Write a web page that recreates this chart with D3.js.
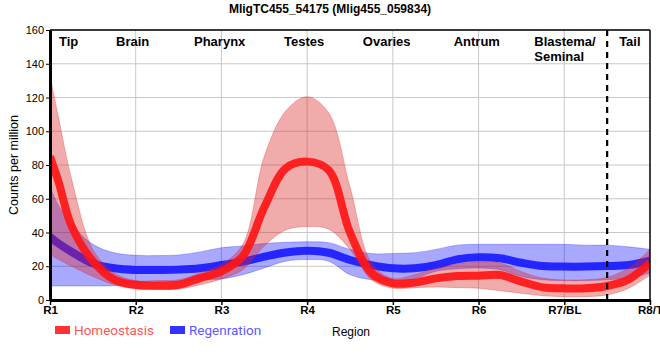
<!DOCTYPE html>
<html><head><meta charset="utf-8">
<script src="https://cdn.jsdelivr.net/npm/d3@7/dist/d3.min.js"></script>
<style>
html,body{margin:0;padding:0;background:#fff;}
svg{display:block;font-family:"Liberation Sans",Arial,sans-serif;}
</style></head>
<body><svg id="chart" width="660" height="360"></svg>
<script>
const title = "MligTC455_54175 (Mlig455_059834)";
const regions = ["R1","R2","R3","R4","R5","R6","R7/BL","R8/T"];
const regionIdx = [0,1,2,3,4,5,6,7];
const sections = ["Tip","Brain","Pharynx","Testes","Ovaries","Antrum","Blastema/\nSeminal","Tail"];
const sectionAt = [0.105,0.77,1.68,2.73,3.65,4.71,5.65,6.64];
const dividerAt = 6.5;
const yTicks = [0,20,40,60,80,100,120,140,160];
const pos = [0,0.1,0.25,0.5,0.75,1,1.25,1.5,1.75,2,2.25,2.5,2.75,3,3.25,3.5,3.75,4,4.25,4.5,4.75,5,5.25,5.5,5.75,6,6.25,6.5,6.75,7];
const homeoMean = [85,70,44,23,12,9,8.5,9,13,17,26,55,78,82,77,40,16,9.9,10.3,12.8,14.2,14.4,14.8,10.9,7.5,6.9,6.9,8.3,12.2,21.9];
const homeoLow  = [27,24,20,14,9,6.5,6.3,6.5,9,12.5,18,32,41.5,43.5,42,30,12,7,7.3,7.7,7.3,7,5.5,4,2.5,2,2,3,7,14.8];
const homeoHigh = [133,108,72,30,16,11.5,11.5,12,16,21,33,85,112,120.5,111,67,22,12.8,15,18.8,21.5,22.5,22,16.8,13,11.9,12,13.4,19,30];
const regenMean = [37.5,33.5,28.6,21.7,18.8,17.8,17.8,18,18.8,20.7,22.7,25.7,28.2,29.2,28,23.7,20.7,18.8,18.8,20.7,24.1,25.3,24.7,22.1,20.1,19.8,19.8,20.1,20.7,23.3];
const regenLow  = [8.3,8.3,8.3,8.3,8.4,9.5,10.5,11,12,12.5,15,19,23,24,23,15,12,11.5,12.5,17,18.5,19,18,14,12,11.5,11.5,12,13,16];
const regenHigh = [67,56,45,33,28,26.5,26.3,26.7,28.5,31,32,33.5,34.2,34.5,34,30,27.5,27.6,28,30,32.5,33,33,33,33,33,32.5,32.5,31.5,30];
const seriesNames = ["Homeostasis","Regenration"];

const svg = d3.select("#chart");
const L=50,R=650,T=30,B=300;
const x = d3.scaleLinear().domain([0,7]).range([L,R]);
const y = d3.scaleLinear().domain([0,160]).range([B,T]);

svg.append("defs").append("clipPath").attr("id","clip")
  .append("rect").attr("x",L).attr("y",T).attr("width",R-L).attr("height",B-T);

// grid
const g = svg.append("g");
g.selectAll("line.hg").data(yTicks.filter(v=>v>0)).enter().append("line")
  .attr("x1",L).attr("x2",R).attr("y1",d=>y(d)).attr("y2",d=>y(d))
  .attr("stroke","#c8c8c8").attr("stroke-width",1);
g.selectAll("line.vg").data(regionIdx.filter(v=>v>0&&v<7)).enter().append("line")
  .attr("y1",T).attr("y2",B).attr("x1",d=>x(d)).attr("x2",d=>x(d))
  .attr("stroke","#c8c8c8").attr("stroke-width",1);

function mk(mean,low,high){return pos.map((p,i)=>({p,m:mean[i],lo:low[i],hi:high[i]}));}
const homeo = mk(homeoMean,homeoLow,homeoHigh);
const regen = mk(regenMean,regenLow,regenHigh);
const curve = d3.curveCatmullRom.alpha(0.5);
const area = d3.area().x(d=>x(d.p)).y0(d=>y(d.lo)).y1(d=>y(d.hi)).curve(curve);
const line = d3.line().x(d=>x(d.p)).y(d=>y(d.m)).curve(curve);

const plot = svg.append("g").attr("clip-path","url(#clip)");
plot.append("path").datum(regen).attr("d",area)
  .attr("fill","#0000ff").attr("fill-opacity",0.34)
  .attr("stroke","#0000ff").attr("stroke-opacity",0.25).attr("stroke-width",1);
plot.append("path").datum(regen).attr("d",line)
  .attr("fill","none").attr("stroke","#1a1aff").attr("stroke-opacity",0.92).attr("stroke-width",8);
plot.append("path").datum(homeo).attr("d",area)
  .attr("fill","#dd2222").attr("fill-opacity",0.38)
  .attr("stroke","#dd2222").attr("stroke-opacity",0.3).attr("stroke-width",1);
plot.append("path").datum(homeo).attr("d",line)
  .attr("fill","none").attr("stroke","#ff1515").attr("stroke-opacity",0.92).attr("stroke-width",8);

// divider
svg.append("line").attr("x1",x(dividerAt)).attr("x2",x(dividerAt)).attr("y1",T).attr("y2",B+5)
  .attr("stroke","#000").attr("stroke-width",2.2).attr("stroke-dasharray","6,5");

// borders
svg.append("line").attr("x1",L).attr("x2",R).attr("y1",T).attr("y2",T).attr("stroke","#000").attr("stroke-width",1.5);
svg.append("line").attr("x1",R).attr("x2",R).attr("y1",T).attr("y2",B).attr("stroke","#000").attr("stroke-width",1.5);

// axes
const xa = svg.append("g").attr("transform",`translate(0,${B})`)
  .call(d3.axisBottom(x).tickValues(regionIdx).tickFormat(i=>regions[i]).tickSize(5).tickSizeOuter(0));
xa.select(".domain").attr("stroke-width",3);
xa.selectAll(".tick line").attr("stroke-width",1.5);
xa.selectAll("text").attr("font-size","11.5px").attr("font-weight","bold").attr("fill","#000")
  .attr("font-family","Liberation Sans, Arial, sans-serif").attr("dy","0.72em").attr("y",6);
const ya = svg.append("g").attr("transform",`translate(${L},0)`)
  .call(d3.axisLeft(y).tickValues(yTicks).tickSize(4).tickSizeOuter(0));
ya.select(".domain").attr("stroke-width",3);
ya.selectAll("text").attr("font-size","11px").attr("fill","#000")
  .attr("font-family","Liberation Sans, Arial, sans-serif").attr("x",-6);

// section labels
sections.forEach((s,i)=>{
  const t = svg.append("text").attr("x",x(sectionAt[i])).attr("y",46)
    .attr("font-size","13px").attr("font-weight","bold").attr("fill","#000");
  s.split("\n").forEach((ln,j)=>{
    t.append("tspan").attr("x",x(sectionAt[i])).attr("dy",j===0?0:14.5).text(ln);
  });
});

// title
svg.append("text").attr("x",330).attr("y",13).attr("text-anchor","middle")
  .attr("font-size","12px").attr("font-weight","bold").text(title);
// y label
svg.append("text").attr("transform","translate(18,165) rotate(-90)").attr("text-anchor","middle")
  .attr("font-size","12.5px").text("Counts per million");
// x label
svg.append("text").attr("x",332).attr("y",336).attr("font-size","12px").text("Region");

// legend
const legCols = ["#ff3333","#3333ff"], legText = ["#ff5555","#5a5aff"], legX=[55,170];
seriesNames.forEach((n,i)=>{
  svg.append("rect").attr("x",legX[i]).attr("y",326).attr("width",15).attr("height",8).attr("fill",legCols[i]);
  svg.append("text").attr("x",legX[i]+19).attr("y",335).attr("font-size","13.5px")
    .attr("font-family","Roboto, Liberation Sans, sans-serif").attr("fill",legText[i]).text(n);
});
</script></body></html>
